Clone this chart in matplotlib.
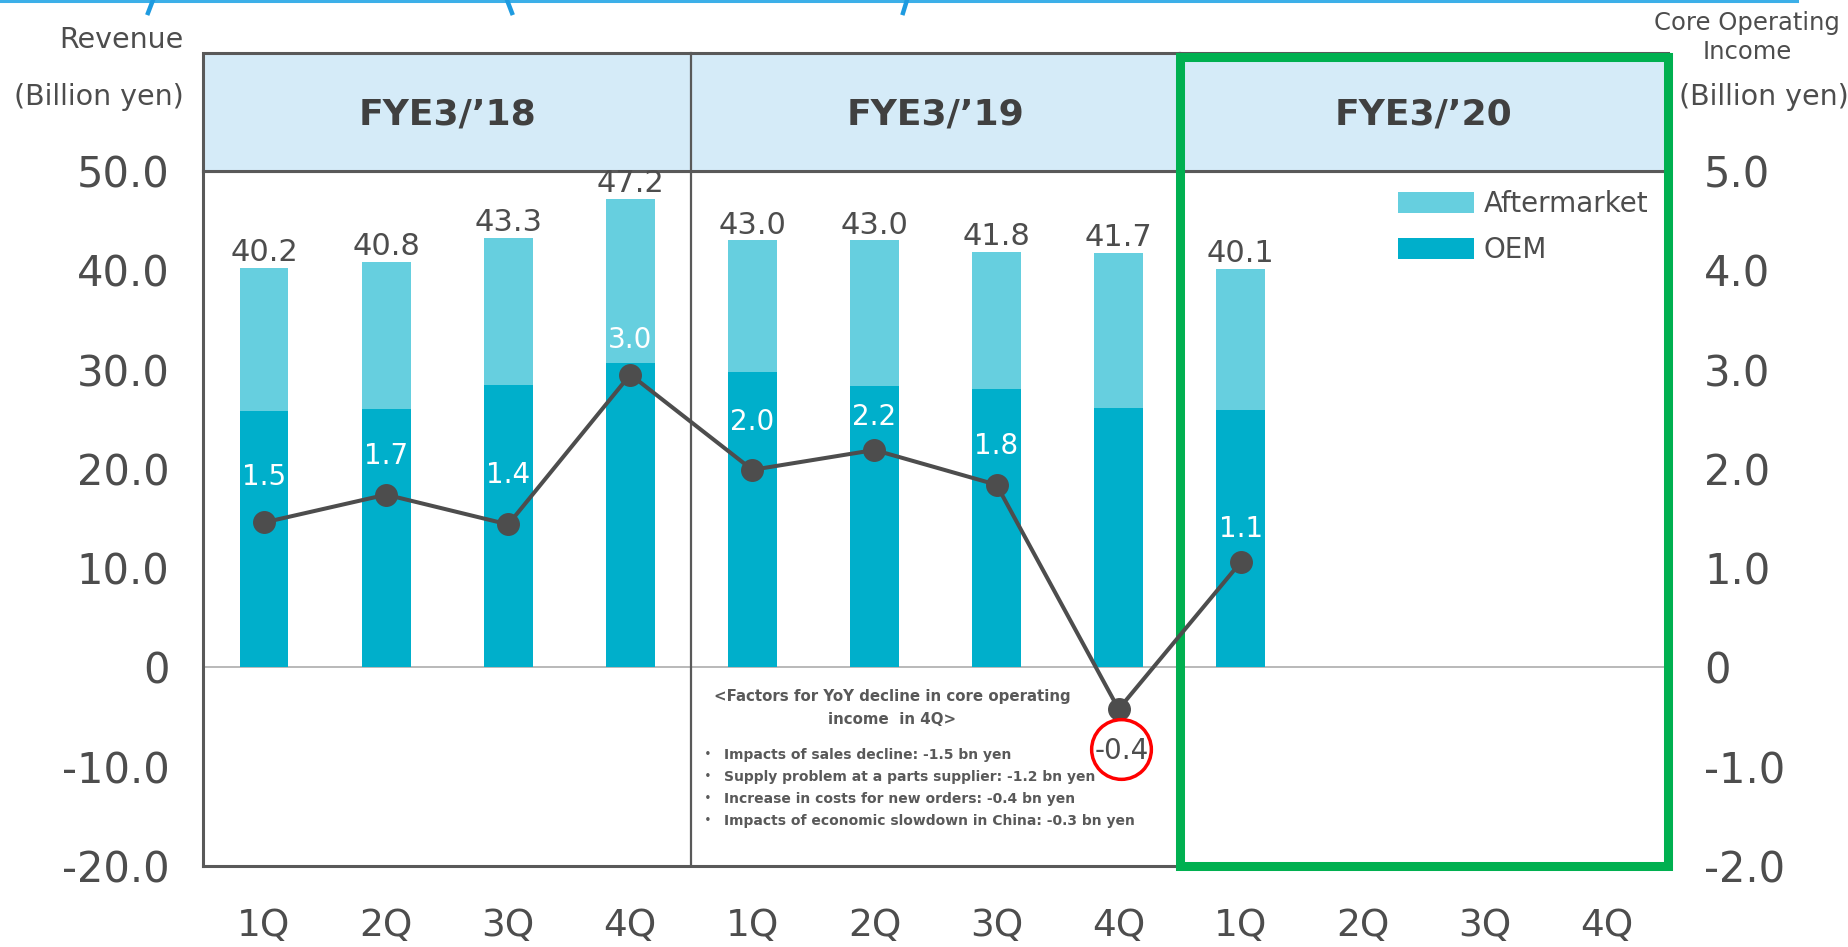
import matplotlib
matplotlib.use('Agg')
import matplotlib.pyplot as plt
from matplotlib.patches import Rectangle, Patch
import matplotlib.transforms as mtransforms
from matplotlib.lines import Line2D

# ---------------- data ----------------
quarters = ['1Q', '2Q', '3Q', '4Q'] * 3
fiscal_years = ["FYE3/’18", "FYE3/’19", "FYE3/’20"]
revenue_total = [40.2, 40.8, 43.3, 47.2, 43.0, 43.0, 41.8, 41.7, 40.1]
revenue_oem = [25.8, 26.0, 28.4, 30.7, 29.8, 28.3, 28.0, 26.1, 25.9]
core_op_income = [1.46, 1.74, 1.44, 2.95, 1.99, 2.19, 1.84, -0.42, 1.06]
series_names = ['Aftermarket', 'OEM']
left_ticks = [50, 40, 30, 20, 10, 0, -10, -20]
left_tick_labels = ['50.0', '40.0', '30.0', '20.0', '10.0', '0', '-10.0', '-20.0']
right_ticks = [5, 4, 3, 2, 1, 0, -1, -2]
right_tick_labels = ['5.0', '4.0', '3.0', '2.0', '1.0', '0', '-1.0', '-2.0']
factors_title = ["<Factors for YoY decline in core operating", "income  in 4Q>"]
factors = [
    "Impacts of sales decline: -1.5 bn yen",
    "Supply problem at a parts supplier: -1.2 bn yen",
    "Increase in costs for new orders: -0.4 bn yen",
    "Impacts of economic slowdown in China: -0.3 bn yen",
]
revenue_aftermarket = [t - o for t, o in zip(revenue_total, revenue_oem)]

# ---------------- style ----------------
W, H = 1848, 947
TXT = '#4D4D4D'
FRAME = '#595959'
OEM_C = '#00AFCB'
AFT_C = '#66CFDF'
HEAD_C = '#D5EBF8'
GREEN = '#00B050'
LINE_C = '#4D4D4D'
label_dy_pt = [27, 22, 30, 19, 29, 18, 22, -36, 18]

plt.rcParams['font.family'] = ['DejaVu Sans', 'Noto Sans CJK JP']

fig = plt.figure(figsize=(W / 100, H / 100), dpi=100)
ax = fig.add_axes([203 / W, 1 - 866 / H, 1465 / W, 695 / H])
x = list(range(len(revenue_total)))

ax.bar(x, revenue_oem, width=0.4, color=OEM_C, zorder=2)
ax.bar(x, revenue_aftermarket, bottom=revenue_oem, width=0.4, color=AFT_C, zorder=2)
ax.set_xlim(-0.5, len(quarters) - 0.5)
ax.set_ylim(-20, 50)
ax.axhline(0, color='#A6A6A6', lw=1.1, zorder=1)

for i, t in enumerate(revenue_total):
    ax.annotate(f"{t:.1f}", (i, t), xytext=(0, 5), textcoords='offset points',
                ha='center', va='baseline', fontsize=22, color=TXT, zorder=4)

ax.set_yticks(left_ticks)
ax.set_yticklabels(left_tick_labels, fontsize=30, color=TXT)
ax.tick_params(axis='y', length=0, pad=24)
ax.set_xticks(range(len(quarters)))
ax.set_xticklabels(quarters, fontsize=27, color=TXT)
ax.tick_params(axis='x', length=0, pad=30)

for s in ['left', 'bottom', 'top']:
    ax.spines[s].set_color(FRAME)
    ax.spines[s].set_linewidth(2.2)
ax.spines['right'].set_visible(False)

# header band
h = (171 - 53) / 695
blend = mtransforms.blended_transform_factory(ax.transData, ax.transAxes)
ax.add_patch(Rectangle((0, 1), 1, h, transform=ax.transAxes, facecolor=HEAD_C,
                       edgecolor=FRAME, lw=2.2, clip_on=False, zorder=3))
for xd in [3.5, 7.5]:
    ax.axvline(xd, 0, 1 + h, color=FRAME, lw=1.6, clip_on=False, zorder=3)
head_tr = mtransforms.offset_copy(blend, fig=fig, x=0, y=-3, units='dots')
for g, name in enumerate(fiscal_years):
    ax.text(g * 4 + 1.5, 1 + h / 2, name, transform=head_tr, ha='center', va='center',
            fontsize=26, fontweight='bold', color='#404040', zorder=4)

# legend
handles = [Patch(facecolor=AFT_C), Patch(facecolor=OEM_C)]
ax.legend(handles, series_names, loc='upper left',
          bbox_to_anchor=(1398 / W, 1 - 190 / H), bbox_transform=fig.transFigure,
          frameon=False, fontsize=20, handlelength=2.73, handleheight=0.79,
          handletextpad=0.36, labelspacing=0.65, borderpad=0, borderaxespad=0,
          labelcolor=TXT)

# green highlight box
ax.add_patch(Rectangle((7.5, 0), 4, 1 + (171 - 57) / 695, transform=blend, fill=False,
                       edgecolor=GREEN, lw=6.5, clip_on=False, zorder=6))

# line on secondary axis
ax2 = ax.twinx()
ax2.set_ylim(-2, 5)
ax2.plot(x, core_op_income, color=LINE_C, lw=2.9, marker='o', ms=15.5, zorder=3)
for i, v in enumerate(core_op_income):
    neg = v < 0
    ax2.annotate(f"{v:.1f}", (i, v), xytext=(2 if neg else 0, label_dy_pt[i]),
                 textcoords='offset points', ha='center', va='baseline',
                 fontsize=20, color=TXT if neg else 'white', zorder=5)
imin = core_op_income.index(min(core_op_income))
circ_tr = mtransforms.offset_copy(ax2.transData, fig=fig, x=2, y=-29, units='points')
ax2.plot([imin], [core_op_income[imin]], marker='o', ms=43, mfc='none', mec='#FF0000',
         mew=2.5, transform=circ_tr, clip_on=False, zorder=6)

ax2.set_yticks(right_ticks)
ax2.set_yticklabels(right_tick_labels, fontsize=30, color=TXT)
ax2.tick_params(axis='y', length=0, pad=26)
for s in ax2.spines.values():
    s.set_visible(False)

# axis titles
fig.text(184 / W, 1 - 40 / H, 'Revenue', ha='right', va='center', fontsize=20.5, color=TXT)
fig.text(184 / W, 1 - 97 / H, '(Billion yen)', ha='right', va='center', fontsize=20.5, color=TXT)
fig.text(1747 / W, 1 - 23 / H, 'Core Operating', ha='center', va='center', fontsize=17.5, color=TXT)
fig.text(1747 / W, 1 - 52 / H, 'Income', ha='center', va='center', fontsize=17.5, color=TXT)
fig.text(1679 / W, 1 - 97 / H, '(Billion yen)', ha='left', va='center', fontsize=20.5, color=TXT)

# factors note
for k, s in enumerate(factors_title):
    fig.text(892 / W, 1 - (696 + 24 * k) / H, s, ha='center', va='center',
             fontsize=10.8, fontweight='bold', color='#595959')
for k, s in enumerate(factors):
    yy = 1 - (755 + 22 * k) / H
    fig.text(708 / W, yy, '・', ha='center', va='center', fontsize=10,
             fontweight='bold', color='#595959')
    fig.text(724 / W, yy, s, ha='left', va='center', fontsize=10,
             fontweight='bold', color='#595959')

# cut-off title remnants at the top
BLUE = '#3CAFE8'
fig.add_artist(Line2D([0, 1797 / W], [1 - 1.5 / H, 1 - 1.5 / H], color=BLUE, lw=2.2))
for x0, x1 in [(153, 148), (507, 512), (907, 903)]:
    fig.add_artist(Line2D([x0 / W, x1 / W], [1, 1 - 13 / H], color='#1E9BE0', lw=3.2))

fig.savefig('out.png', dpi=100)
